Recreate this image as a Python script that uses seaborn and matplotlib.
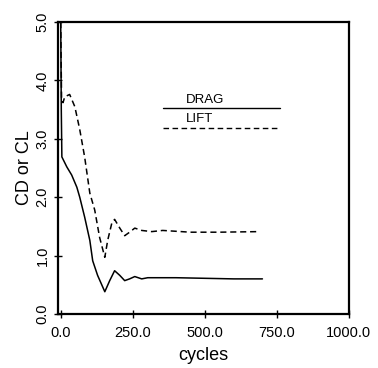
import numpy as np
import pandas as pd
import matplotlib
matplotlib.use("Agg")
import matplotlib.pyplot as plt
import seaborn as sns

# Data
drag_x = [0, 2, 4, 21, 38, 56, 66, 83, 101, 111, 128, 153, 170, 187, 205, 222, 239, 257, 281, 302, 400, 500, 600, 700]
drag_y = [5.0, 3.5, 2.69, 2.52, 2.38, 2.17, 2.0, 1.66, 1.26, 0.91, 0.66, 0.38, 0.57, 0.74, 0.66, 0.57, 0.60, 0.64, 0.60, 0.62, 0.62, 0.61, 0.60, 0.60]
lift_x = [0, 3, 8, 14, 31, 49, 66, 83, 101, 118, 135, 153, 163, 177, 187, 205, 222, 239, 257, 281, 316, 354, 450, 550, 690]
lift_y = [5.0, 3.65, 3.62, 3.72, 3.76, 3.55, 3.16, 2.69, 2.07, 1.78, 1.31, 0.97, 1.26, 1.55, 1.62, 1.47, 1.34, 1.40, 1.47, 1.43, 1.41, 1.43, 1.40, 1.40, 1.41]
series_names = ["DRAG", "LIFT"]
x_ticks = [0.0, 250.0, 500.0, 750.0, 1000.0]
y_ticks = [0.0, 1.0, 2.0, 3.0, 4.0, 5.0]

df = pd.concat([
    pd.DataFrame({"cycles": drag_x, "value": drag_y, "series": "DRAG"}),
    pd.DataFrame({"cycles": lift_x, "value": lift_y, "series": "LIFT"}),
])

sns.set_theme(style="white")
plt.rcParams["font.family"] = ["Liberation Sans", "DejaVu Sans"]

fig = plt.figure(figsize=(3.78, 3.68), dpi=100)
ax = fig.add_axes([0.153, 0.147, 0.770, 0.793])

sns.lineplot(data=df, x="cycles", y="value", style="series",
             style_order=series_names,
             dashes={"DRAG": "", "LIFT": (4, 2.5)},
             color="black", linewidth=1.1, ax=ax, legend=False,
             estimator=None, sort=False)

ax.set_xlim(-10, 1000)
ax.set_ylim(0, 5)
ax.set_xticks(x_ticks)
ax.set_xticklabels([f"{v:.1f}" for v in x_ticks], fontsize=10.5)
ax.set_yticks(y_ticks)
ax.set_yticklabels([f"{v:.1f}" for v in y_ticks], fontsize=10.5, rotation=90, va="center")
ax.tick_params(axis="both", bottom=True, left=True, direction="inout",
               length=6, width=1, color="black", labelcolor="black")
ax.tick_params(axis="x", pad=6)
ax.tick_params(axis="y", pad=3)
for s in ax.spines.values():
    s.set_color("black")
    s.set_linewidth(1.6)

ax.set_xlabel("cycles", fontsize=13, labelpad=5, color="black")
ax.set_ylabel("CD or CL", fontsize=13, labelpad=2, color="black")

# Legend: label text above a line sample
leg_x0, leg_x1 = 354, 760
ax.plot([leg_x0, leg_x1], [3.53, 3.53], color="black", lw=1.0)
ax.plot([leg_x0, leg_x1], [3.19, 3.19], color="black", lw=1.0, dashes=(4, 2.5))
ax.text(434, 3.57, "DRAG", fontsize=9.5, ha="left", va="bottom", color="black")
ax.text(434, 3.23, "LIFT", fontsize=9.5, ha="left", va="bottom", color="black")

fig.savefig("out.png", dpi=100)
